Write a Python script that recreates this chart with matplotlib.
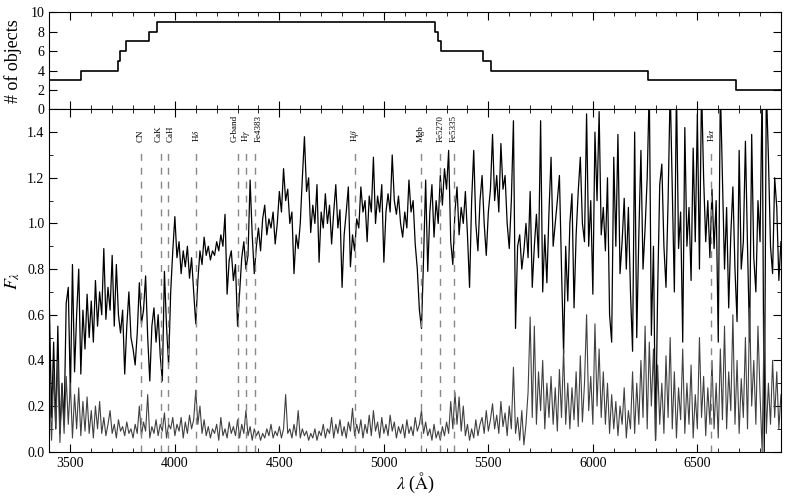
import numpy as np
import matplotlib
matplotlib.use("Agg")
import matplotlib.pyplot as plt
from matplotlib.ticker import MultipleLocator

plt.rcParams["font.family"] = ["Liberation Serif", "DejaVu Serif"]
plt.rcParams["mathtext.fontset"] = "stix"

# number of stacked objects vs wavelength (step edges)
step_edges = [3400, 3550, 3727, 3737, 3766, 3876, 3914, 5246, 5257, 5275, 5472, 5514, 6266, 6685, 6900]
step_counts = [3, 4, 5, 6, 7, 8, 9, 8, 7, 6, 5, 4, 3, 2, 2]

# stacked spectrum, sampled every 10 A from 3400 to 6900
wave = np.arange(3400, 6901, 10)
flux = [
    0.62, 0.15, 0.48, 0.10, 0.55, 0.08, 0.30, 0.12, 0.65, 0.72,
    0.25, 0.82, 0.35, 0.60, 0.80, 0.34, 0.62, 0.45, 0.69, 0.50,
    0.66, 0.48, 0.75, 0.55, 0.70, 0.60, 0.89, 0.58, 0.72, 0.62,
    0.86, 0.55, 0.82, 0.60, 0.52, 0.62, 0.34, 0.55, 0.70, 0.50,
    0.45, 0.38, 0.52, 0.74, 0.56, 0.62, 0.77, 0.50, 0.31, 0.55,
    0.63, 0.48, 0.60, 0.42, 0.31, 0.79, 0.55, 0.38, 0.70, 0.88,
    1.03, 0.85, 0.92, 0.78, 0.88, 0.81, 0.90, 0.76, 0.85, 0.70,
    0.56, 0.75, 0.88, 0.82, 0.94, 0.86, 0.90, 0.84, 0.88, 0.86,
    0.92, 0.88, 0.95, 0.90, 1.04, 0.69, 0.84, 0.88, 0.75, 0.82,
    0.55, 0.70, 0.85, 0.92, 0.80, 0.86, 1.19, 0.95, 0.78, 0.90,
    0.98, 0.88, 1.02, 1.08, 0.95, 1.02, 0.98, 1.05, 0.91, 1.00,
    1.14, 1.05, 1.24, 1.10, 1.15, 1.00, 1.05, 0.78, 0.95, 0.89,
    1.00, 1.20, 1.38, 1.14, 1.20, 0.96, 1.08, 1.00, 1.17, 0.83,
    1.05, 0.98, 1.13, 1.00, 1.08, 0.91, 1.05, 1.17, 0.98, 1.06,
    0.72, 0.95, 1.05, 1.16, 0.81, 0.95, 0.88, 1.02, 0.98, 1.16,
    1.05, 1.10, 0.92, 1.12, 1.05, 1.29, 1.00, 1.12, 1.05, 1.17,
    0.83, 1.05, 1.13, 1.05, 1.30, 1.10, 1.04, 1.12, 1.00, 0.94,
    1.05, 0.98, 1.19, 1.05, 1.10, 0.91, 0.80, 0.62, 0.54, 0.85,
    1.19, 0.79, 1.05, 1.17, 0.94, 1.10, 1.00, 1.21, 1.08, 1.24,
    1.15, 1.32, 0.92, 0.82, 1.05, 1.16, 0.95, 1.07, 1.00, 1.14,
    0.95, 0.72, 1.10, 1.32, 1.00, 0.88, 1.10, 1.21, 1.00, 0.86,
    1.05, 1.15, 1.39, 1.10, 1.21, 1.05, 1.35, 1.15, 1.21, 1.00,
    0.89, 1.10, 1.45, 0.54, 0.90, 0.95, 0.80, 0.88, 1.00, 0.85,
    1.14, 0.72, 0.90, 1.04, 0.85, 1.45, 0.70, 0.95, 0.74, 1.05,
    1.29, 0.90, 1.00, 1.10, 1.21, 0.80, 0.43, 0.90, 0.66, 1.00,
    1.13, 0.63, 0.95, 1.14, 1.29, 1.00, 0.92, 1.48, 0.90, 1.10,
    0.69, 1.40, 1.10, 1.49, 0.95, 1.07, 0.88, 1.20, 0.60, 0.48,
    1.29, 0.90, 1.39, 0.78, 0.92, 1.11, 0.80, 1.07, 0.70, 0.44,
    1.40, 0.50, 0.95, 1.32, 0.80, 0.98, 1.20, 1.60, 0.51, 0.90,
    0.05, 0.70, 1.17, 1.26, 0.90, 0.72, 1.10, 1.60, 1.14, 0.70,
    1.60, 0.89, 1.05, 0.48, 1.42, 0.90, 1.07, 0.75, 1.33, 0.92,
    1.48, 0.80, 1.60, 1.20, 0.92, 1.10, 0.85, 1.15, 0.89, 1.10,
    0.48, 1.60, 1.20, 0.80, 1.07, 0.63, 0.95, 1.16, 0.80, 0.57,
    1.32, 0.80, 0.92, 1.36, 0.90, 0.48, 1.39, 0.85, 0.70, 1.10,
    0.92, 1.60, 0.00, 1.60, 1.29, 0.90, 0.78, 1.20, 1.07, 0.75,
    0.92,
]
# error spectrum on the same grid
err = [
    0.30, 0.05, 0.35, 0.10, 0.40, 0.04, 0.28, 0.08, 0.33, 0.12,
    0.30, 0.06, 0.25, 0.10, 0.28, 0.07, 0.22, 0.09, 0.24, 0.08,
    0.18, 0.06, 0.20, 0.10, 0.22, 0.08, 0.15, 0.07, 0.12, 0.18,
    0.08, 0.12, 0.06, 0.14, 0.09, 0.11, 0.07, 0.13, 0.08, 0.10,
    0.06, 0.12, 0.08, 0.20, 0.07, 0.13, 0.09, 0.25, 0.06, 0.11,
    0.08, 0.14, 0.07, 0.12, 0.09, 0.17, 0.06, 0.12, 0.10, 0.15,
    0.07, 0.12, 0.09, 0.15, 0.06, 0.13, 0.08, 0.16, 0.10, 0.14,
    0.27, 0.12, 0.20, 0.08, 0.14, 0.07, 0.11, 0.06, 0.10, 0.08,
    0.12, 0.05, 0.15, 0.07, 0.10, 0.06, 0.13, 0.08, 0.11, 0.07,
    0.14, 0.06, 0.12, 0.08, 0.18, 0.07, 0.11, 0.05, 0.10, 0.07,
    0.09, 0.05, 0.08, 0.06, 0.10, 0.07, 0.12, 0.06, 0.09, 0.07,
    0.11, 0.06, 0.10, 0.25, 0.08, 0.10, 0.06, 0.12, 0.07, 0.18,
    0.06, 0.10, 0.07, 0.09, 0.05, 0.08, 0.06, 0.10, 0.05, 0.09,
    0.07, 0.12, 0.06, 0.10, 0.08, 0.15, 0.06, 0.12, 0.08, 0.14,
    0.07, 0.11, 0.06, 0.13, 0.09, 0.19, 0.07, 0.12, 0.08, 0.14,
    0.06, 0.12, 0.08, 0.16, 0.07, 0.18, 0.09, 0.13, 0.06, 0.15,
    0.08, 0.12, 0.07, 0.16, 0.09, 0.13, 0.06, 0.11, 0.08, 0.12,
    0.06, 0.14, 0.08, 0.11, 0.07, 0.15, 0.09, 0.12, 0.18, 0.08,
    0.13, 0.07, 0.10, 0.05, 0.12, 0.06, 0.09, 0.05, 0.11, 0.07,
    0.13, 0.08, 0.22, 0.10, 0.26, 0.12, 0.24, 0.09, 0.20, 0.07,
    0.12, 0.05, 0.10, 0.06, 0.14, 0.07, 0.12, 0.15, 0.08, 0.18,
    0.09, 0.14, 0.21, 0.10, 0.16, 0.08, 0.22, 0.11, 0.17, 0.07,
    0.20, 0.10, 0.37, 0.08, 0.15, 0.05, 0.18, 0.03, 0.12, 0.26,
    0.59, 0.15, 0.55, 0.12, 0.35, 0.18, 0.40, 0.10, 0.30, 0.15,
    0.33, 0.12, 0.28, 0.09, 0.36, 0.15, 0.45, 0.12, 0.30, 0.10,
    0.28, 0.14, 0.35, 0.11, 0.42, 0.13, 0.30, 0.60, 0.18, 0.33,
    0.12, 0.56, 0.20, 0.45, 0.15, 0.35, 0.12, 0.30, 0.08, 0.25,
    0.10, 0.22, 0.07, 0.20, 0.12, 0.28, 0.06, 0.18, 0.10, 0.35,
    0.08, 0.30, 0.12, 0.40, 0.15, 0.55, 0.10, 0.48, 0.20, 0.45,
    0.05, 0.38, 0.12, 0.30, 0.08, 0.42, 0.15, 0.50, 0.10, 0.35,
    0.06, 0.28, 0.14, 0.45, 0.08, 0.30, 0.12, 0.38, 0.06, 0.25,
    0.10, 0.50, 0.15, 0.33, 0.07, 0.28, 0.12, 0.40, 0.10, 0.30,
    0.06, 0.45, 0.14, 0.55, 0.10, 0.35, 0.18, 0.60, 0.12, 0.40,
    0.08, 0.32, 0.15, 0.50, 0.10, 0.63, 0.20, 0.40, 0.12, 0.55,
    0.25, 0.00, 0.60, 0.08, 0.30, 0.12, 0.40, 0.15, 0.35, 0.10,
    0.25,
]

# absorption features marked in the spectrum
line_names = ["CN", "CaK", "CaH", r"H$\delta$", "G-band", r"H$\gamma$", "Fe4383",
              r"H$\beta$", "Mgb", "Fe5270", "Fe5335", r"H$\alpha$"]
line_waves = [3836, 3934, 3968, 4102, 4304, 4341, 4383, 4862, 5176, 5270, 5336, 6564]
# small sideways nudge (in A) so crowded labels do not sit on top of each other
label_shift = [0, -13, 13, 0, -16, 0, 16, 0, 0, 0, 0, 0]

fig = plt.figure(figsize=(7.89, 4.98), dpi=100)
ax_top = fig.add_axes([0.0627, 0.7805, 0.9271, 0.1947])
ax = fig.add_axes([0.0627, 0.093, 0.9271, 0.6875], sharex=ax_top)

ax_top.step(step_edges, step_counts, where="post", color="black", lw=1.2)
ax_top.set_ylim(0, 10)
ax_top.set_yticks([0, 2, 4, 6, 8, 10])
ax_top.set_ylabel("# of objects", fontsize=13, labelpad=6)
ax_top.tick_params(labelbottom=False)

ax.plot(wave, flux, color="black", lw=0.9)
ax.plot(wave, err, color="#404040", lw=0.8)

for name, w, dx in zip(line_names, line_waves, label_shift):
    ax.plot([w, w], [0, 1.33], color="#888888", lw=1, dashes=(5, 5))
    ax.text(w + dx, 1.355, name, rotation=90, fontsize=6.5, ha="center", va="bottom")

ax.set_xlim(3400, 6900)
ax.set_ylim(0, 1.5)
ax.set_yticks([0.0, 0.2, 0.4, 0.6, 0.8, 1.0, 1.2, 1.4])
ax.yaxis.set_minor_locator(MultipleLocator(0.1))
ax.set_xticks([3500, 4000, 4500, 5000, 5500, 6000, 6500])
ax.xaxis.set_minor_locator(MultipleLocator(100))
ax.set_xlabel(r"$\lambda$ ($\mathrm{\AA}$)", fontsize=13, labelpad=1)
ax.set_ylabel(r"$F_\lambda$", fontsize=13)

for a in (ax_top, ax):
    a.tick_params(which="both", direction="in", top=True, right=True, labelsize=10)
    a.tick_params(which="major", length=6)
    a.tick_params(which="minor", length=3)

fig.savefig("out.png", dpi=100)
